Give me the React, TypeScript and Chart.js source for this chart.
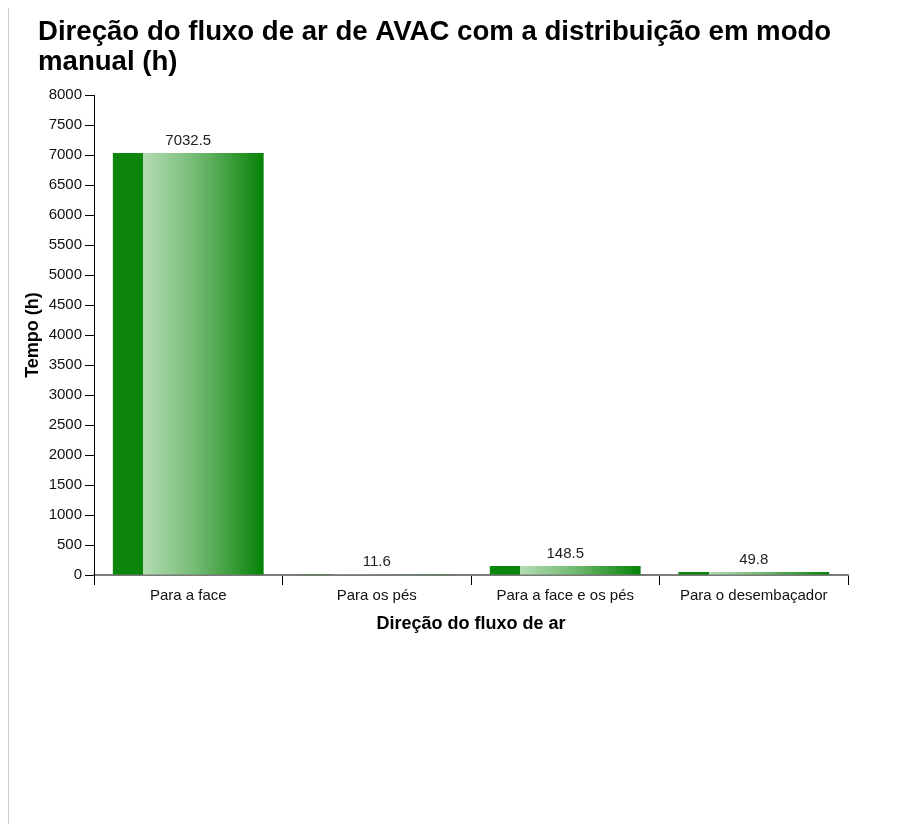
import React, { useEffect, useRef } from "react";
import { Chart, registerables } from "chart.js";

Chart.register(...registerables);

const TITLE_LINES = ["Direção do fluxo de ar de AVAC com a distribuição em modo", "manual (h)"];
const CATEGORIES = ["Para a face", "Para os pés", "Para a face e os pés", "Para o desembaçador"];
const VALUES = [7032.5, 11.6, 148.5, 49.8];
const VALUE_LABELS = ["7032.5", "11.6", "148.5", "49.8"];
const Y_TITLE = "Tempo (h)";
const X_TITLE = "Direção do fluxo de ar";
const Y_MIN = 0;
const Y_MAX = 8000;
const Y_STEP = 500;

const FONT = '"Liberation Sans", Arial, Helvetica, sans-serif';
const CANVAS_W = 893;
const CANVAS_H = 816;

const titlePlugin = {
  id: "customTitle",
  afterDraw(chart: any) {
    const ctx = chart.ctx;
    ctx.save();
    ctx.font = `bold 27.6px ${FONT}`;
    ctx.fillStyle = "#000";
    ctx.textAlign = "left";
    ctx.textBaseline = "alphabetic";
    TITLE_LINES.forEach((t, i) => ctx.fillText(t, 29, 32 + i * 30));
    ctx.restore();
  },
};

const valueLabelPlugin = {
  id: "valueLabels",
  afterDatasetsDraw(chart: any) {
    const ctx = chart.ctx;
    const meta = chart.getDatasetMeta(0);
    ctx.save();
    ctx.font = `15px ${FONT}`;
    ctx.fillStyle = "#222";
    ctx.textAlign = "center";
    ctx.textBaseline = "alphabetic";
    meta.data.forEach((el: any, i: number) => {
      ctx.fillText(VALUE_LABELS[i], el.x, el.y - 8);
    });
    ctx.restore();
  },
};

export default function App() {
  const ref = useRef<HTMLCanvasElement | null>(null);

  useEffect(() => {
    document.documentElement.style.overflow = "hidden";
    const canvas = ref.current;
    if (!canvas) return;
    const chart = new Chart(canvas, {
      type: "bar",
      data: {
        labels: CATEGORIES,
        datasets: [
          {
            data: VALUES,
            categoryPercentage: 0.8,
            barPercentage: 1,
            borderWidth: 0,
            backgroundColor: (c: any) => {
              const ch = c.chart;
              const xs = ch.scales && ch.scales.x;
              if (!ch.chartArea || !xs) return "#0b860b";
              const center = xs.getPixelForValue(c.dataIndex);
              const w = (xs.width / CATEGORIES.length) * 0.8;
              const left = center - w / 2;
              const g = ch.ctx.createLinearGradient(left, 0, left + w, 0);
              g.addColorStop(0, "#0b860b");
              g.addColorStop(0.2, "#0b860b");
              g.addColorStop(0.2, "#b3dcb3");
              g.addColorStop(0.55, "#74bb74");
              g.addColorStop(1, "#058205");
              return g;
            },
          },
        ],
      },
      options: {
        responsive: false,
        animation: false,
        devicePixelRatio: 1,
        layout: { padding: { left: 0, top: 87, right: 54, bottom: 189 } },
        plugins: {
          legend: { display: false },
          title: { display: false },
          tooltip: { enabled: false },
        },
        scales: {
          x: {
            offset: true,
            grid: {
              display: true,
              offset: true,
              drawOnChartArea: false,
              drawTicks: true,
              tickLength: 10,
              color: "#000",
              lineWidth: 1,
            },
            border: { display: true, color: "#7a7a7a", width: 2 },
            ticks: { color: "#111", font: { family: FONT, size: 15 }, padding: 2, maxRotation: 0 },
            title: {
              display: true,
              text: X_TITLE,
              color: "#000",
              font: { family: FONT, size: 18, weight: "bold" },
              padding: { top: 0, bottom: 0 },
            },
            afterFit: (s: any) => {
              s.height = 60;
            },
          },
          y: {
            min: Y_MIN,
            max: Y_MAX,
            ticks: {
              stepSize: Y_STEP,
              color: "#111",
              font: { family: FONT, size: 15 },
              padding: 3,
              callback: (v: any) => String(v),
            },
            grid: {
              display: true,
              drawOnChartArea: false,
              drawTicks: true,
              tickLength: 9,
              color: "#000",
              lineWidth: 1,
            },
            border: { display: true, color: "#000", width: 1 },
            title: {
              display: true,
              text: Y_TITLE,
              color: "#000",
              font: { family: FONT, size: 18, weight: "bold" },
              padding: { top: 13, bottom: 0 },
            },
            afterFit: (s: any) => {
              s.width = 85;
            },
          },
        },
      },
      plugins: [titlePlugin, valueLabelPlugin],
    } as any);
    return () => chart.destroy();
  }, []);

  return (
    <div style={{ borderLeft: "1px solid #ccc", height: CANVAS_H, position: "relative" }}>
      <canvas ref={ref} width={CANVAS_W} height={CANVAS_H} style={{ display: "block" }} />
    </div>
  );
}
